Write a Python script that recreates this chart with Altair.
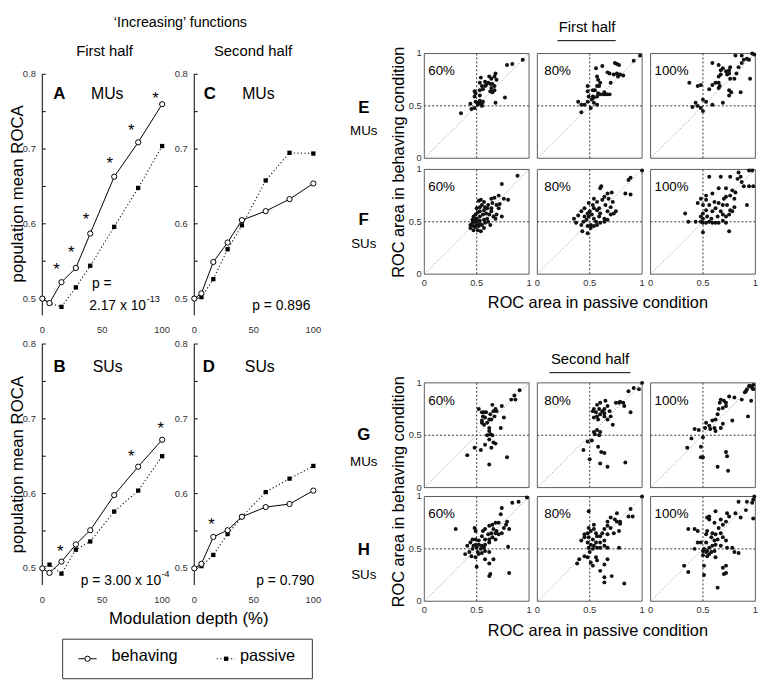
import altair as alt
import pandas as pd

SANS = "Liberation Sans, Arial, sans-serif"

# ---------------- line panels (A-D) ----------------
depth = [0, 6, 16, 28, 40, 60, 80, 100]
A_behaving = [0.500, 0.494, 0.522, 0.541, 0.587, 0.663, 0.709, 0.760]
A_passive = [0.500, 0.494, 0.489, 0.515, 0.544, 0.596, 0.648, 0.704]
C_behaving = [0.500, 0.507, 0.549, 0.575, 0.605, 0.617, 0.633, 0.654]
C_passive = [0.500, 0.502, 0.526, 0.566, 0.598, 0.658, 0.695, 0.694]
B_behaving = [0.500, 0.494, 0.509, 0.532, 0.551, 0.598, 0.636, 0.672]
B_passive = [0.500, 0.505, 0.493, 0.525, 0.536, 0.576, 0.604, 0.650]
D_behaving = [0.500, 0.506, 0.542, 0.551, 0.569, 0.582, 0.586, 0.604]
D_passive = [0.500, 0.503, 0.518, 0.546, 0.569, 0.602, 0.620, 0.637]

A_star_x = [11.8, 24.1, 36.4, 56.2, 74.2, 94.5]
A_star_y = [0.545, 0.568, 0.612, 0.686, 0.730, 0.774]
B_star_x = [15.1, 74.2, 98.9]
B_star_y = [0.529, 0.656, 0.693]
D_star_x = [14.4]
D_star_y = [0.564]

roca_ticks = [0.5, 0.55, 0.6, 0.65, 0.7, 0.75, 0.8]
roca_label_values = [0.5, 0.6, 0.7, 0.8]
roca_labels = ["0.5", "0.6", "0.7", "0.8"]
depth_ticks = [0, 50, 100]
depth_labels = ["0", "50", "100"]
roc_ticks = [0, 0.5, 1]
roc_labels = ["0", "0.5", "1"]

# ---------------- scatter panels (passive ROC, behaving ROC) ----------------
E60 = [(0.35,0.43),(0.44,0.52),(0.45,0.47),(0.48,0.48),(0.49,0.54),(0.51,0.52),(0.52,0.53),(0.54,0.52),
       (0.55,0.52),(0.56,0.54),(0.53,0.55),(0.51,0.51),(0.55,0.50),(0.48,0.59),(0.49,0.62),(0.48,0.64),
       (0.53,0.65),(0.55,0.69),(0.53,0.72),(0.54,0.77),(0.56,0.66),(0.58,0.69),(0.59,0.70),(0.58,0.73),
       (0.61,0.72),(0.63,0.71),(0.62,0.78),(0.64,0.67),(0.65,0.71),(0.67,0.65),(0.63,0.64),(0.65,0.63),
       (0.68,0.81),(0.69,0.75),(0.67,0.78),(0.67,0.69),(0.68,0.53),(0.77,0.58),(0.79,0.89),(0.84,0.90),
       (0.94,0.94),(0.53,0.60),(0.64,0.76)]
E80 = [(0.42,0.44),(0.39,0.54),(0.42,0.51),(0.45,0.51),(0.48,0.54),(0.49,0.59),(0.48,0.64),(0.48,0.69),
       (0.52,0.56),(0.54,0.58),(0.57,0.59),(0.58,0.62),(0.60,0.61),(0.63,0.61),(0.65,0.61),(0.67,0.61),
       (0.69,0.61),(0.57,0.51),(0.54,0.53),(0.53,0.65),(0.55,0.65),(0.57,0.69),(0.59,0.69),(0.60,0.72),
       (0.57,0.78),(0.58,0.75),(0.56,0.86),(0.62,0.88),(0.70,0.72),(0.67,0.82),(0.69,0.81),(0.73,0.80),
       (0.76,0.81),(0.77,0.78),(0.79,0.80),(0.82,0.79),(0.74,0.91),(0.76,0.90),(0.78,0.89),(0.92,0.93),
       (0.98,0.98),(0.53,0.59),(0.64,0.63),(0.51,0.48)]
E100 = [(0.37,0.72),(0.40,0.49),(0.43,0.53),(0.45,0.50),(0.48,0.48),(0.50,0.45),(0.50,0.56),(0.53,0.54),
        (0.59,0.51),(0.69,0.53),(0.45,0.69),(0.48,0.70),(0.56,0.66),(0.59,0.70),(0.62,0.72),(0.65,0.72),
        (0.65,0.67),(0.66,0.69),(0.59,0.91),(0.65,0.89),(0.67,0.84),(0.69,0.86),(0.65,0.78),(0.67,0.80),
        (0.72,0.83),(0.73,0.80),(0.75,0.84),(0.76,0.87),(0.75,0.81),(0.76,0.76),(0.75,0.60),(0.75,0.65),
        (0.77,0.63),(0.84,0.87),(0.87,0.91),(0.89,0.94),(0.92,0.95),(0.94,0.94),(0.81,0.98),(0.87,0.98),
        (0.97,1.00),(0.99,0.99),(0.86,0.63),(0.95,0.76),(0.80,0.76),(0.82,0.81)]
F60 = [(0.52,0.70),(0.54,0.71),(0.57,0.69),(0.55,0.66),(0.53,0.64),(0.50,0.63),(0.58,0.64),(0.60,0.63),
       (0.61,0.66),(0.57,0.61),(0.53,0.60),(0.51,0.59),(0.49,0.57),(0.47,0.55),(0.50,0.53),(0.53,0.55),
       (0.56,0.57),(0.59,0.58),(0.62,0.57),(0.64,0.60),(0.66,0.55),(0.68,0.53),(0.69,0.57),(0.60,0.53),
       (0.57,0.52),(0.53,0.51),(0.50,0.50),(0.48,0.50),(0.46,0.49),(0.44,0.47),(0.47,0.46),(0.49,0.45),
       (0.52,0.46),(0.55,0.47),(0.58,0.49),(0.61,0.50),(0.63,0.47),(0.44,0.44),(0.47,0.42),(0.51,0.42),
       (0.54,0.41),(0.57,0.44),(0.53,0.48),(0.50,0.47),(0.48,0.53),(0.46,0.52),(0.71,0.63),(0.72,0.67),
       (0.69,0.66),(0.65,0.68),(0.64,0.63),(0.89,0.94),(0.74,0.86),(0.71,0.75),(0.76,0.72),(0.80,0.71),
       (0.74,0.55),(0.67,0.73),(0.64,0.72)]
F80 = [(1.00,0.99),(0.89,0.92),(0.87,0.90),(0.84,0.77),(0.89,0.76),(0.61,0.84),(0.60,0.82),(0.67,0.77),
       (0.71,0.78),(0.68,0.72),(0.64,0.74),(0.72,0.69),(0.65,0.66),(0.73,0.58),(0.75,0.60),(0.70,0.57),
       (0.67,0.60),(0.39,0.56),(0.42,0.60),(0.45,0.55),(0.48,0.58),(0.52,0.57),(0.54,0.53),(0.57,0.61),
       (0.59,0.63),(0.60,0.58),(0.56,0.50),(0.51,0.47),(0.48,0.46),(0.44,0.50),(0.42,0.47),(0.37,0.49),
       (0.35,0.53),(0.43,0.41),(0.48,0.39),(0.51,0.44),(0.54,0.46),(0.57,0.47),(0.60,0.49),(0.64,0.50),
       (0.64,0.53),(0.67,0.52),(0.53,0.66),(0.49,0.68),(0.54,0.72),(0.57,0.69),(0.62,0.71),(0.70,0.64),
       (0.50,0.60),(0.45,0.63),(0.54,0.63),(0.47,0.52),(0.59,0.55),(0.49,0.55)]
F100 = [(0.94,0.99),(0.97,0.99),(0.84,0.97),(0.86,0.93),(0.83,0.91),(0.87,0.88),(0.89,0.84),(0.94,0.84),
        (0.98,0.84),(0.56,0.93),(0.67,0.93),(0.76,0.93),(0.72,0.82),(0.78,0.80),(0.81,0.78),(0.76,0.75),
        (0.72,0.74),(0.80,0.72),(0.65,0.82),(0.59,0.77),(0.53,0.75),(0.48,0.72),(0.45,0.68),(0.50,0.66),
        (0.53,0.71),(0.56,0.66),(0.61,0.69),(0.65,0.68),(0.69,0.66),(0.70,0.72),(0.73,0.66),(0.76,0.61),
        (0.80,0.64),(0.67,0.60),(0.62,0.63),(0.59,0.60),(0.53,0.61),(0.50,0.58),(0.48,0.55),(0.50,0.53),
        (0.54,0.55),(0.58,0.53),(0.64,0.55),(0.69,0.57),(0.72,0.55),(0.75,0.57),(0.78,0.60),(0.48,0.50),
        (0.50,0.49),(0.53,0.49),(0.56,0.50),(0.59,0.49),(0.62,0.49),(0.65,0.49),(0.69,0.51),(0.72,0.49),
        (0.43,0.50),(0.33,0.58),(0.36,0.50),(0.50,0.40),(0.75,0.41),(0.92,0.66)]
G60 = [(0.91,0.93),(0.86,0.88),(0.87,0.84),(0.83,0.84),(0.76,0.67),(0.74,0.78),(0.79,0.29),(0.73,0.57),
       (0.52,0.75),(0.55,0.72),(0.57,0.72),(0.59,0.72),(0.56,0.68),(0.58,0.67),(0.55,0.64),(0.55,0.62),
       (0.57,0.60),(0.60,0.62),(0.62,0.65),(0.63,0.70),(0.65,0.79),(0.66,0.73),(0.68,0.75),(0.69,0.73),
       (0.67,0.68),(0.64,0.65),(0.62,0.57),(0.62,0.54),(0.63,0.51),(0.60,0.50),(0.62,0.46),(0.65,0.50),
       (0.66,0.43),(0.68,0.42),(0.64,0.38),(0.58,0.41),(0.62,0.22),(0.48,0.38),(0.54,0.36),(0.41,0.31)]
G80 = [(1.00,1.00),(0.97,0.94),(0.92,0.95),(0.87,0.92),(0.79,0.82),(0.82,0.81),(0.83,0.78),(0.78,0.81),
       (0.75,0.81),(0.89,0.72),(0.84,0.24),(0.72,0.60),(0.64,0.75),(0.67,0.78),(0.65,0.83),(0.60,0.81),
       (0.57,0.79),(0.59,0.75),(0.62,0.73),(0.64,0.71),(0.60,0.70),(0.57,0.68),(0.54,0.67),(0.56,0.72),
       (0.58,0.65),(0.64,0.68),(0.54,0.75),(0.53,0.73),(0.69,0.73),(0.70,0.68),(0.67,0.65),(0.54,0.53),
       (0.57,0.55),(0.60,0.53),(0.55,0.51),(0.59,0.50),(0.52,0.45),(0.48,0.44),(0.44,0.36),(0.50,0.27),
       (0.58,0.39),(0.61,0.34),(0.64,0.33),(0.60,0.23),(0.67,0.20)]
G100 = [(0.97,0.95),(0.98,0.98),(0.95,0.97),(0.92,0.94),(0.91,0.92),(0.98,0.94),(0.94,0.97),(0.90,0.91),
        (0.87,0.84),(0.96,0.83),(0.93,0.68),(0.67,0.84),(0.70,0.83),(0.66,0.81),(0.72,0.81),(0.75,0.87),
        (0.80,0.86),(0.72,0.78),(0.69,0.76),(0.65,0.75),(0.64,0.70),(0.62,0.65),(0.59,0.64),(0.56,0.59),
        (0.57,0.56),(0.61,0.57),(0.62,0.54),(0.67,0.57),(0.69,0.61),(0.78,0.64),(0.52,0.57),(0.46,0.55),
        (0.42,0.56),(0.39,0.47),(0.35,0.38),(0.50,0.48),(0.48,0.39),(0.48,0.29),(0.50,0.29),(0.72,0.34),
        (0.73,0.30),(0.64,0.20),(0.74,0.16),(0.53,0.62)]
H60 = [(0.98,0.99),(0.90,0.95),(0.84,0.94),(0.74,0.89),(0.73,0.83),(0.79,0.76),(0.81,0.69),(0.78,0.73),
       (0.76,0.70),(0.71,0.75),(0.68,0.75),(0.65,0.73),(0.62,0.72),(0.66,0.69),(0.69,0.67),(0.74,0.65),
       (0.71,0.64),(0.68,0.65),(0.64,0.65),(0.61,0.64),(0.58,0.69),(0.56,0.67),(0.55,0.62),(0.58,0.59),
       (0.62,0.59),(0.65,0.61),(0.68,0.59),(0.52,0.58),(0.49,0.59),(0.46,0.59),(0.44,0.56),(0.49,0.54),
       (0.52,0.54),(0.55,0.53),(0.58,0.54),(0.62,0.56),(0.47,0.53),(0.50,0.51),(0.54,0.50),(0.57,0.51),
       (0.58,0.48),(0.62,0.47),(0.46,0.50),(0.43,0.47),(0.41,0.53),(0.39,0.45),(0.45,0.43),(0.49,0.42),
       (0.52,0.45),(0.55,0.46),(0.49,0.67),(0.48,0.70),(0.30,0.69),(0.58,0.40),(0.62,0.36),(0.66,0.40),
       (0.63,0.26),(0.62,0.24),(0.50,0.33),(0.80,0.52),(0.81,0.27),(0.51,0.47)]
H80 = [(1.00,1.00),(0.89,0.88),(0.87,0.81),(0.91,0.81),(0.76,0.84),(0.74,0.78),(0.70,0.80),(0.67,0.76),
       (0.76,0.76),(0.79,0.76),(0.79,0.74),(0.78,0.67),(0.67,0.72),(0.64,0.69),(0.62,0.65),(0.60,0.62),
       (0.57,0.62),(0.56,0.65),(0.54,0.69),(0.51,0.67),(0.48,0.65),(0.45,0.64),(0.49,0.61),(0.53,0.59),
       (0.56,0.56),(0.60,0.56),(0.64,0.58),(0.67,0.64),(0.70,0.70),(0.73,0.65),(0.54,0.73),(0.49,0.70),
       (0.45,0.61),(0.48,0.56),(0.49,0.51),(0.51,0.54),(0.53,0.50),(0.54,0.53),(0.57,0.51),(0.60,0.51),
       (0.64,0.53),(0.67,0.51),(0.40,0.40),(0.45,0.43),(0.48,0.42),(0.51,0.37),(0.53,0.34),(0.56,0.42),
       (0.57,0.39),(0.67,0.40),(0.60,0.29),(0.64,0.23),(0.71,0.24),(0.64,0.18),(0.83,0.17),(0.64,0.35),
       (0.42,0.58),(0.38,0.36),(0.49,0.86),(0.78,0.51),(0.50,0.47)]
H100 = [(0.99,1.00),(0.98,0.97),(0.97,0.94),(0.92,0.95),(0.84,0.95),(0.91,0.87),(0.98,0.79),(0.86,0.80),
        (0.81,0.84),(0.73,0.84),(0.75,0.81),(0.72,0.76),(0.67,0.78),(0.69,0.73),(0.65,0.70),(0.62,0.86),
        (0.56,0.81),(0.54,0.80),(0.56,0.78),(0.61,0.75),(0.67,0.65),(0.62,0.64),(0.59,0.65),(0.54,0.67),
        (0.53,0.64),(0.58,0.61),(0.61,0.58),(0.64,0.59),(0.69,0.61),(0.72,0.58),(0.67,0.53),(0.62,0.54),
        (0.59,0.53),(0.56,0.51),(0.54,0.48),(0.53,0.47),(0.56,0.45),(0.51,0.50),(0.50,0.48),(0.53,0.56),
        (0.48,0.56),(0.45,0.56),(0.42,0.50),(0.50,0.44),(0.54,0.43),(0.58,0.47),(0.61,0.48),(0.42,0.69),
        (0.36,0.69),(0.45,0.67),(0.78,0.51),(0.80,0.47),(0.84,0.46),(0.72,0.34),(0.69,0.32),(0.70,0.26),
        (0.72,0.27),(0.64,0.13),(0.51,0.25),(0.36,0.28),(0.32,0.34),(0.62,0.42),(0.73,0.51),(0.51,0.34)]

ONE = pd.DataFrame({"z": [0]})
Y0 = 0.4776
TICK_FS = 9.5
P_FS = 14


def P(v):
    # page pixel -> view pixel (page margin 8)
    return v - 8


def txt(text, x, y, size=15, weight="normal", align="left",
        baseline="alphabetic", angle=0, color="black"):
    return alt.Chart(ONE).mark_text(
        text=text, font=SANS, fontSize=size, fontWeight=weight, align=align,
        baseline=baseline, angle=angle, color=color
    ).encode(x=alt.value(P(x)), y=alt.value(P(y)))


def hline(x1, x2, y, dash=None, color="black", width=1):
    kw = dict(color=color, strokeWidth=width)
    if dash:
        kw["strokeDash"] = dash
    return alt.Chart(ONE).mark_rule(**kw).encode(
        x=alt.value(P(x1)), x2=alt.value(P(x2)), y=alt.value(P(y)))


def line_panel(beh, pas, sx, sy, x0, x1, ytop, ybot):
    xs = alt.Scale(domain=[0, 100], range=[P(x0), P(x1)], nice=False, zero=False)
    ys = alt.Scale(domain=[Y0, 0.8], range=[P(ybot), P(ytop)], nice=False, zero=False)

    def X(f):
        return alt.X(f + ":Q", scale=xs, axis=None)

    def Y(f):
        return alt.Y(f + ":Q", scale=ys, axis=None)

    dom = pd.DataFrame({"depth": [0], "lo": [Y0], "hi": [0.8]})
    tck = pd.DataFrame({"depth": [0] * len(roca_ticks), "d2": [2.9] * len(roca_ticks),
                        "roca": roca_ticks})
    ylab = pd.DataFrame({"depth": [0] * len(roca_labels), "roca": roca_label_values,
                         "t": roca_labels})
    xlab = pd.DataFrame({"depth": depth_ticks, "roca": [Y0] * len(depth_ticks),
                         "t": depth_labels})
    df_b = pd.DataFrame({"depth": depth, "roca": beh})
    df_p = pd.DataFrame({"depth": depth, "roca": pas})
    layers = [
        alt.Chart(dom).mark_rule(color="black", strokeWidth=1).encode(
            x=X("depth"), y=Y("lo"), y2=alt.Y2("hi")),
        alt.Chart(tck).mark_rule(color="black", strokeWidth=1).encode(
            x=X("depth"), x2=alt.X2("d2"), y=Y("roca")),
        alt.Chart(ylab).mark_text(align="right", baseline="middle", dx=-6.5, font=SANS,
                                  fontSize=TICK_FS, color="#333").encode(
            x=X("depth"), y=Y("roca"), text="t:N"),
        alt.Chart(xlab).mark_text(align="center", baseline="top", dy=10, font=SANS,
                                  fontSize=TICK_FS, color="#333").encode(
            x=X("depth"), y=Y("roca"), text="t:N"),
        alt.Chart(df_p).mark_line(color="#111", strokeWidth=1.1, strokeDash=[1.2, 2.4]).encode(
            x=X("depth"), y=Y("roca")),
        alt.Chart(df_p).mark_square(size=19, color="black", opacity=1).encode(
            x=X("depth"), y=Y("roca")),
        alt.Chart(df_b).mark_line(color="black", strokeWidth=1).encode(
            x=X("depth"), y=Y("roca")),
        alt.Chart(df_b).mark_point(shape="circle", filled=True, fill="white", stroke="black",
                                   strokeWidth=1, size=28, opacity=1).encode(
            x=X("depth"), y=Y("roca")),
    ]
    if sx:
        df_s = pd.DataFrame({"depth": sx, "roca": sy})
        layers.append(alt.Chart(df_s).mark_text(
            text="*", font=SANS, fontSize=17, baseline="alphabetic", dy=10, color="black"
        ).encode(x=X("depth"), y=Y("roca")))
    return alt.layer(*layers)


def scatter_panel(pts, x0, ytop, show_y, show_x):
    xs = alt.Scale(domain=[0, 1], range=[P(x0), P(x0 + 106)], nice=False, zero=False)
    ys = alt.Scale(domain=[0, 1], range=[P(ytop + 106), P(ytop)], nice=False, zero=False)

    def X(f):
        return alt.X(f + ":Q", scale=xs, axis=None)

    def Y(f):
        return alt.Y(f + ":Q", scale=ys, axis=None)

    df = pd.DataFrame(pts, columns=["a", "b"])
    frame = pd.DataFrame({"a": [0], "a2": [1], "b": [0], "b2": [1]})
    diag = pd.DataFrame({"a": [0, 1], "b": [0, 1]})
    vr = pd.DataFrame({"a": [0.5], "b": [0], "b2": [1]})
    hr = pd.DataFrame({"a": [0], "a2": [1], "b": [0.5]})
    layers = [
        alt.Chart(diag).mark_line(color="#8a8a8a", strokeWidth=1, strokeDash=[1, 2]).encode(
            x=X("a"), y=Y("b")),
        alt.Chart(vr).mark_rule(color="#333", strokeWidth=1, strokeDash=[2, 2]).encode(
            x=X("a"), y=Y("b"), y2=alt.Y2("b2")),
        alt.Chart(hr).mark_rule(color="#333", strokeWidth=1, strokeDash=[2, 2]).encode(
            x=X("a"), x2=alt.X2("a2"), y=Y("b")),
        alt.Chart(frame).mark_rect(filled=False, color="#5a5a5a", strokeWidth=1).encode(
            x=X("a"), x2=alt.X2("a2"), y=Y("b"), y2=alt.Y2("b2")),
        alt.Chart(df).mark_circle(size=16, color="#111", opacity=1).encode(x=X("a"), y=Y("b")),
    ]
    if show_y:
        ylab = pd.DataFrame({"a": [0] * 3, "b": roc_ticks, "t": roc_labels})
        layers.append(alt.Chart(ylab).mark_text(
            align="right", baseline="middle", dx=-2.5, font=SANS, fontSize=TICK_FS, color="#333"
        ).encode(x=X("a"), y=Y("b"), text="t:N"))
    if show_x:
        xlab = pd.DataFrame({"a": roc_ticks, "b": [0] * 3, "t": roc_labels})
        layers.append(alt.Chart(xlab).mark_text(
            align="center", baseline="top", dy=4, font=SANS, fontSize=TICK_FS, color="#333"
        ).encode(x=X("a"), y=Y("b"), text="t:N"))
    return alt.layer(*layers)


# panel geometry (page pixels)
LX = [(41.7, 163.0), (195.5, 316.0)]
LY = [(71.0, 315.0), (344.0, 588.0)]
SX = [428.3, 542.7, 657.3]
SY = [50.0, 167.3, 383.3, 498.3]

panels = [
    line_panel(A_behaving, A_passive, A_star_x, A_star_y, *LX[0], *LY[0]),
    line_panel(C_behaving, C_passive, [], [], *LX[1], *LY[0]),
    line_panel(B_behaving, B_passive, B_star_x, B_star_y, *LX[0], *LY[1]),
    line_panel(D_behaving, D_passive, D_star_x, D_star_y, *LX[1], *LY[1]),
]

scatter_sets = [[E60, E80, E100], [F60, F80, F100], [G60, G80, G100], [H60, H80, H100]]
pct_names = ["60%", "80%", "100%"]
pct_dx = [4, 7, 4]
for r, row in enumerate(scatter_sets):
    for c, pts in enumerate(row):
        panels.append(scatter_panel(pts, SX[c], SY[r], c == 0, r in (1, 3)))

texts = [
    txt("\u2018Increasing\u2019 functions", 181.5, 23, 14.5, align="center"),
    txt("First half", 104.7, 52.7, 15, align="center"),
    txt("Second half", 255, 52.7, 15, align="center"),
    txt("A", 52.7, 96, 17, weight="bold"), txt("MUs", 91, 96, 16),
    txt("C", 205, 96, 17, weight="bold"), txt("MUs", 244, 96, 16),
    txt("B", 53, 372.7, 17, weight="bold"), txt("SUs", 92.7, 372.7, 16),
    txt("D", 204, 372.7, 17, weight="bold"), txt("SUs", 246.7, 372.7, 16),
    txt("p =", 92, 287, P_FS),
    txt("2.17 x 10", 146.7, 309.3, P_FS, align="right"),
    txt("-13", 147.5, 301.7, 9),
    txt("p = 0.896", 313, 309.3, P_FS, align="right"),
    txt("p = 3.00 x 10", 162, 587.7, P_FS, align="right"),
    txt("-4", 162.5, 580, 9),
    txt("p = 0.790", 317, 587.7, P_FS, align="right"),
    txt("population mean ROCA", 17, 192, 17, align="center", baseline="middle", angle=270),
    txt("population mean ROCA", 17, 466, 17, align="center", baseline="middle", angle=270),
    txt("Modulation depth (%)", 190, 627.5, 17, align="center"),
    # legend
    alt.Chart(ONE).mark_rect(filled=False, color="#333", strokeWidth=1).encode(
        x=alt.value(P(62.3)), x2=alt.value(P(315)), y=alt.value(P(642.7)), y2=alt.value(P(682.7))),
    hline(78.3, 96.7, 662.5),
    alt.Chart(ONE).mark_point(shape="circle", filled=True, fill="white", stroke="black",
                              strokeWidth=1, size=28, opacity=1).encode(
        x=alt.value(P(87.5)), y=alt.value(P(662.5))),
    txt("behaving", 111.7, 665, 16.5),
    hline(218.3, 236.7, 662.5, dash=[1.2, 2.4]),
    alt.Chart(ONE).mark_square(size=19, color="black", opacity=1).encode(
        x=alt.value(P(227.7)), y=alt.value(P(662.5))),
    txt("passive", 241.7, 665, 16.5),
    # right side
    txt("First half", 593, 28, 15, align="center"),
    hline(563, 622, 37),
    txt("Second half", 596, 364, 15, align="center"),
    hline(555, 637, 373),
    txt("E", 367, 110, 17, weight="bold", align="center"),
    txt("MUs", 367, 132, 13.5, align="center"),
    txt("F", 367, 224, 17, weight="bold", align="center"),
    txt("SUs", 367, 247, 13.5, align="center"),
    txt("G", 367, 441, 17, weight="bold", align="center"),
    txt("MUs", 367, 467, 13.5, align="center"),
    txt("H", 367, 557, 17, weight="bold", align="center"),
    txt("SUs", 367, 582, 13.5, align="center"),
    txt("ROC area in behaving condition", 402.5, 160, 16.5, align="center",
        baseline="middle", angle=270),
    txt("ROC area in behaving condition", 402.5, 493.5, 16.5, align="center",
        baseline="middle", angle=270),
    txt("ROC area in passive condition", 604, 308, 16.5, align="center"),
    txt("ROC area in passive condition", 604, 639, 16.5, align="center"),
]
for r in range(4):
    for c in range(3):
        texts.append(txt(pct_names[c], SX[c] + pct_dx[c], SY[r] + 22, 13.5))

chart = alt.layer(*panels, *texts).resolve_scale(
    x="independent", y="independent"
).properties(
    width=750, height=677, padding=0, background="white"
).configure_view(strokeWidth=0)

chart.save("out.html", embed_options={"renderer": "svg", "actions": False})
